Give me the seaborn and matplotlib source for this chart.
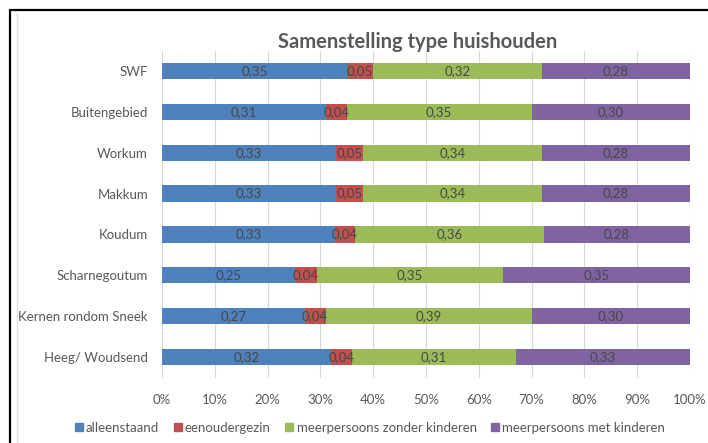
import pandas as pd
import seaborn as sns
import matplotlib.pyplot as plt
from matplotlib.lines import Line2D

gebieden = ['SWF', 'Buitengebied', 'Workum', 'Makkum', 'Koudum',
            'Scharnegoutum', 'Kernen rondom Sneek', 'Heeg/ Woudsend']
alleenstaand = [0.35, 0.31, 0.33, 0.33, 0.33, 0.25, 0.27, 0.32]
eenoudergezin = [0.05, 0.04, 0.05, 0.05, 0.04, 0.04, 0.04, 0.04]
zonder_kinderen = [0.32, 0.35, 0.34, 0.34, 0.36, 0.35, 0.39, 0.31]
met_kinderen = [0.28, 0.30, 0.28, 0.28, 0.28, 0.35, 0.30, 0.33]

series = ['alleenstaand', 'eenoudergezin', 'meerpersoons zonder kinderen',
          'meerpersoons met kinderen']
kleuren = ['#4F81BD', '#C0504D', '#9BBB59', '#8064A2']
xticks = [i / 10 for i in range(11)]

df = pd.DataFrame({'gebied': gebieden,
                   series[0]: alleenstaand,
                   series[1]: eenoudergezin,
                   series[2]: zonder_kinderen,
                   series[3]: met_kinderen})

# 100% stacked: normalise each row
shares = df[series].div(df[series].sum(axis=1), axis=0)
cum = shares.cumsum(axis=1)

sns.set_theme(style='white')
plt.rcParams['font.family'] = ['Lato', 'DejaVu Sans']

fig = plt.figure(figsize=(7.08, 4.43), dpi=100)
ax = fig.add_axes([162 / 708, 1 - 377.5 / 443, 528 / 708, 327 / 443])

# draw from the right so earlier series sit on top
for col, kleur in zip(reversed(series), reversed(kleuren)):
    sns.barplot(x=cum[col], y=df['gebied'], order=gebieden, color=kleur,
                saturation=1, width=0.4, orient='h', ax=ax, edgecolor='none')

for i in range(len(df)):
    for col in series:
        mid = cum.loc[i, col] - shares.loc[i, col] / 2
        ax.text(mid, i, f"{df.loc[i, col]:.2f}".replace('.', ','),
                ha='center', va='center', fontsize=9.5, color='#474747')

ax.set_xlim(0, 1)
ax.set_ylim(len(df) - 0.5, -0.5)
ax.set_xticks(xticks)
ax.set_xticklabels([f"{int(round(t * 100))}%" for t in xticks])
ax.xaxis.grid(True, color='#d9d9d9', lw=0.8)
ax.set_axisbelow(True)
ax.tick_params(axis='both', length=0, labelsize=9.5, colors='#595959')
ax.tick_params(axis='x', pad=12)
ax.tick_params(axis='y', pad=10)
ax.set_xlabel('')
ax.set_ylabel('')
for s in ax.spines.values():
    s.set_visible(False)

fig.text(418 / 708, 1 - 42 / 443, 'Samenstelling type huishouden',
         ha='center', va='center', fontsize=14.5, fontweight='bold',
         color='#595959')

handles = [Line2D([], [], marker='s', ls='', color=k, markersize=5.5)
           for k in kleuren]
fig.legend(handles, series, loc='center', bbox_to_anchor=(370 / 708, 1 - 428 / 443),
           ncol=4, frameon=False, fontsize=9.5, handlelength=0.6,
           handletextpad=0.25, columnspacing=1.1, labelcolor='#595959')

# frame around the picture
fig.add_artist(Line2D([10 / 708, 1], [1 - 10 / 443] * 2, color='black', lw=1.6,
                      transform=fig.transFigure))
fig.add_artist(Line2D([10 / 708] * 2, [0, 1 - 10 / 443], color='black', lw=1.6,
                      transform=fig.transFigure))
fig.add_artist(Line2D([17 / 708] * 2, [0, 1 - 13 / 443], color='#e0e0e0', lw=1,
                      transform=fig.transFigure))

fig.savefig('out.png', dpi=100)
